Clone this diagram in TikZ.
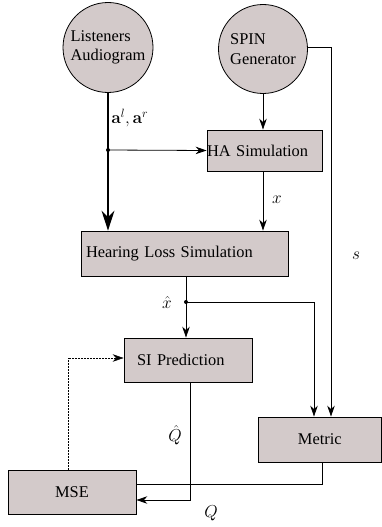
\documentclass[tikz,border=0pt]{standalone}
\usepackage[no-math]{fontspec}
\setmainfont{Liberation Serif}
\usetikzlibrary{arrows.meta,calc}
\definecolor{boxgray}{RGB}{211,202,202}
\begin{document}
\begin{tikzpicture}[x=1pt,y=-1pt,
  font=\fontsize{16.4}{19.5}\selectfont,
  every path/.style={line width=0.8pt},
  circ/.style={circle,draw,fill=boxgray,inner sep=0pt,align=left},
  box/.style={rectangle,draw,fill=boxgray,inner ysep=0pt},
  arr/.style={-{Stealth[length=11pt,width=7.5pt]}},
  bigarr/.style={line width=1.3pt,-{Stealth[length=20pt,width=13pt]}},
  lbl/.style={inner sep=0pt},
  dotc/.style={circle,fill,inner sep=0pt,minimum size=4pt}]
\useasboundingbox (0,0) rectangle (382,527);
% nodes
\node[circ,minimum size=90pt] (aud) at (108,47.5) {Listeners\\Audiogram};
\node[circ,minimum size=89pt] (spin) at (263,49) {SPIN\\Generator};
\node[box,minimum height=41pt,inner xsep=0pt,text width=115pt,align=left] (ha) at (264.5,150.5) {HA Simulation};
\node[box,minimum height=45pt,inner xsep=5pt,text width=197pt,align=left] (hl) at (184.5,253.5) {Hearing Loss Simulation};
\node[box,minimum height=44pt,inner xsep=13pt,text width=102pt,align=left] (si) at (188,360) {SI Prediction};
\node[box,minimum height=45pt,minimum width=123.5pt,inner xsep=0pt] (metric) at (319.8,439.5) {Metric};
\node[box,minimum height=44pt,minimum width=128pt,inner xsep=0pt] (mse) at (72,492) {MSE};
% junctions
\node[dotc] (d1) at (108,150) {};
\node[dotc] (d2) at (186,302) {};
% connectors
\draw[bigarr] (aud.south) -- (aud.south |- hl.north);
\draw[arr] (d1.center) -- (ha.west);
\draw[arr] (spin.south) -- (spin.south |- ha.north);
\draw[arr] (spin.south |- ha.south) -- (spin.south |- hl.north);
\draw[arr] ([yshift=2pt]spin.east) -| ([xshift=11.2pt]metric.north);
\draw (d2.center |- hl.south) -- (d2.center);
\draw[arr] (d2.center) -- (d2.center |- si.north);
\draw[arr] (d2.center) -| ([xshift=-5.8pt]metric.north);
\draw[arr] ([xshift=2pt]si.south) |- ([yshift=-8pt]mse.east);
\draw ([xshift=2.2pt]metric.south) |- ([yshift=8pt]mse.east);
\draw[line width=0.5pt,densely dotted,-{Stealth[length=11pt,width=7.5pt]}] ([xshift=-4pt]mse.north) |- ([yshift=2pt]si.west);
% labels
\node[lbl,anchor=west] (la) at (111,118) {$\mathbf{a}^l,\mathbf{a}^r$};
\node[lbl] (lx) at (277,200) {$x$};
\node[lbl] (ls) at (356,256) {$s$};
\node[lbl] (lxh) at (167,302) {$\hat{x}$};
\node[lbl] (lqh) at (175,435) {$\hat{Q}$};
\node[lbl] (lq) at (211,513) {$Q$};
\end{tikzpicture}
\end{document}
